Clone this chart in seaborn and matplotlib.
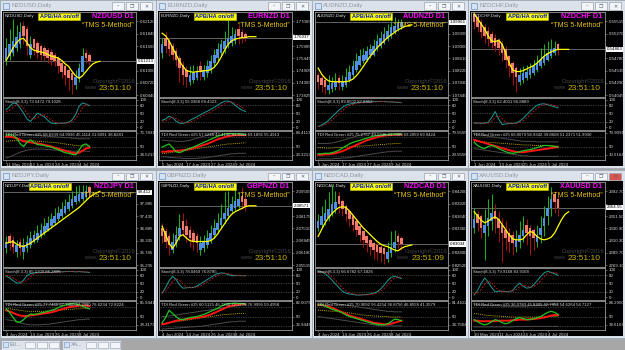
import matplotlib
matplotlib.use("Agg")
import matplotlib.pyplot as plt
from matplotlib.patches import Rectangle
import seaborn as sns

plt.rcParams['font.family'] = ['Liberation Sans', 'DejaVu Sans']

# ------------------------------------------------------------------ data
symbols = ['NZDUSD', 'EURNZD', 'AUDNZD', 'NZDCHF', 'NZDJPY', 'GBPNZD', 'NZDCAD', 'XAUUSD']
clock = ['23:51:10', '23:51:10', '23:51:10', '23:51:10', '23:51:10', '23:51:10', '23:51:09', '23:51:10']

# price pane values in pane units (0 = bottom, 100 = top)
nzdusd_open = [44, 48, 52, 58, 62, 84, 80, 50, 68, 64, 60, 58, 55, 53, 50, 46, 40, 36, 32, 28, 14, 22, 30, 52, 50]
nzdusd_close = [58, 62, 66, 70, 76, 72, 60, 62, 58, 52, 50, 48, 46, 44, 42, 36, 30, 26, 22, 20, 24, 34, 48, 46, 42]
nzdusd_high = [70, 80, 92, 85, 88, 90, 84, 72, 70, 66, 62, 60, 58, 56, 52, 48, 44, 40, 34, 30, 32, 40, 58, 56, 52]
nzdusd_low = [38, 44, 48, 54, 58, 62, 50, 46, 50, 46, 44, 42, 40, 38, 36, 28, 22, 14, 8, 4, 10, 18, 28, 40, 38]
nzdusd_ma = [43, 50, 58, 64, 68, 69, 64, 58, 55, 54, 53, 52, 50, 48, 47, 46, 43, 39, 36, 30, 25, 22, 25, 30, 35, 39, 41, 42]

eurnzd_open = [52, 70, 66, 60, 54, 46, 38, 32, 18, 20, 22, 36, 24, 28, 32, 40, 46, 52, 56, 62, 64, 66, 80, 76, 74]
eurnzd_close = [62, 60, 56, 50, 44, 34, 26, 24, 26, 28, 30, 30, 32, 36, 42, 50, 56, 62, 66, 70, 72, 74, 72, 71, 70]
eurnzd_high = [70, 76, 70, 64, 58, 50, 42, 36, 36, 38, 36, 42, 38, 44, 50, 56, 64, 68, 78, 92, 82, 80, 86, 80, 76]
eurnzd_low = [46, 52, 48, 44, 36, 18, 14, 12, 14, 16, 20, 20, 20, 24, 28, 36, 42, 48, 52, 58, 60, 62, 62, 64, 66]
eurnzd_ma = [75, 72, 66, 58, 50, 42, 36, 31, 30, 29, 30, 30, 31, 31, 32, 35, 40, 47, 55, 62, 66, 68, 69, 70, 70, 71, 71, 71]

audnzd_open = [26, 22, 20, 8, 10, 12, 22, 12, 14, 20, 26, 32, 38, 42, 44, 50, 50, 56, 60, 64, 68, 72, 76, 80, 82]
audnzd_close = [18, 14, 12, 14, 16, 18, 16, 18, 24, 30, 36, 42, 48, 50, 54, 56, 60, 66, 70, 74, 78, 82, 84, 87, 88]
audnzd_high = [30, 26, 24, 26, 24, 28, 26, 26, 34, 38, 44, 52, 56, 58, 60, 62, 68, 74, 78, 82, 86, 90, 94, 92, 92]
audnzd_low = [10, 6, 4, 4, 6, 8, 8, 8, 12, 18, 24, 30, 36, 40, 42, 46, 48, 54, 58, 62, 66, 70, 74, 78, 80]
audnzd_ma = [34, 27, 22, 19, 18, 18, 18, 18, 18, 19, 21, 25, 30, 36, 42, 48, 53, 58, 62, 66, 70, 73, 76, 79, 81, 83, 84, 85]

nzdchf_open = [98, 94, 88, 82, 78, 74, 70, 66, 62, 56, 48, 40, 34, 18, 20, 22, 26, 28, 32, 36, 40, 44, 48, 52, 62]
nzdchf_close = [88, 82, 76, 72, 68, 64, 60, 58, 52, 44, 36, 28, 24, 26, 28, 30, 33, 36, 40, 44, 48, 52, 56, 58, 56]
nzdchf_high = [100, 98, 92, 86, 82, 78, 74, 70, 66, 60, 50, 42, 36, 34, 36, 38, 40, 44, 50, 58, 62, 66, 68, 66, 64]
nzdchf_low = [80, 76, 70, 64, 60, 58, 54, 50, 42, 34, 24, 14, 6, 14, 16, 20, 22, 26, 30, 34, 38, 42, 46, 50, 50]
nzdchf_ma = [98, 92, 86, 80, 72, 66, 65, 67, 62, 52, 40, 32, 30, 30, 31, 33, 35, 37, 40, 44, 48, 51, 53, 55, 56, 56, 56, 56]

nzdjpy_open = [22, 36, 32, 18, 30, 18, 22, 26, 30, 32, 36, 40, 44, 48, 52, 56, 60, 64, 68, 72, 76, 78, 80, 82, 94]
nzdjpy_close = [30, 28, 24, 26, 22, 26, 30, 34, 38, 40, 44, 48, 52, 56, 60, 64, 68, 72, 76, 80, 84, 86, 88, 90, 88]
nzdjpy_high = [36, 40, 36, 32, 34, 34, 38, 42, 44, 50, 52, 58, 60, 64, 70, 72, 76, 80, 86, 90, 95, 96, 97, 96, 96]
nzdjpy_low = [16, 20, 16, 12, 14, 10, 18, 22, 28, 30, 34, 38, 42, 46, 50, 54, 58, 62, 66, 70, 74, 76, 78, 80, 82]
nzdjpy_ma = [28, 29, 30, 27, 25, 24, 26, 28, 31, 34, 37, 40, 43, 46, 49, 52, 55, 58, 61, 64, 67, 70, 74, 78, 82, 85, 87, 89]

gbpnzd_open = [46, 42, 36, 20, 28, 36, 54, 48, 44, 40, 36, 20, 22, 26, 32, 38, 44, 50, 56, 60, 66, 70, 72, 84, 80]
gbpnzd_close = [36, 30, 26, 30, 38, 46, 44, 38, 34, 30, 28, 28, 30, 34, 40, 46, 52, 58, 64, 70, 74, 78, 80, 76, 72]
gbpnzd_high = [52, 46, 40, 40, 48, 62, 64, 56, 48, 44, 40, 36, 38, 44, 50, 56, 64, 74, 88, 90, 84, 92, 88, 94, 84]
gbpnzd_low = [28, 22, 14, 16, 24, 32, 36, 30, 24, 20, 18, 14, 18, 22, 28, 34, 40, 46, 52, 56, 62, 66, 70, 68, 66]
gbpnzd_ma = [48, 38, 28, 22, 28, 36, 38, 34, 31, 30, 30, 30, 30, 30, 31, 34, 39, 45, 51, 57, 62, 65, 67, 69, 71, 72, 72, 72]

nzdcad_open = [46, 50, 54, 58, 64, 68, 84, 78, 72, 66, 60, 54, 48, 42, 36, 32, 28, 26, 24, 22, 10, 16, 22, 36, 34]
nzdcad_close = [54, 60, 64, 68, 74, 76, 74, 68, 62, 56, 50, 44, 38, 32, 28, 24, 20, 18, 16, 15, 18, 24, 30, 30, 27]
nzdcad_high = [62, 72, 80, 88, 96, 90, 88, 80, 74, 68, 62, 56, 50, 44, 38, 34, 30, 28, 26, 24, 30, 42, 44, 40, 36]
nzdcad_low = [42, 46, 50, 54, 60, 64, 64, 60, 54, 48, 42, 36, 30, 24, 18, 14, 10, 8, 6, 4, 6, 12, 18, 22, 20]
nzdcad_ma = [36, 44, 52, 58, 63, 67, 70, 71, 70, 66, 61, 56, 51, 46, 42, 38, 34, 30, 27, 25, 24, 22, 20, 19, 22, 24, 25, 26]

xauusd_open = [46, 62, 60, 40, 48, 54, 66, 56, 50, 44, 40, 38, 24, 30, 36, 50, 46, 44, 30, 38, 48, 60, 70, 86, 80]
xauusd_close = [56, 52, 46, 50, 58, 64, 56, 46, 40, 34, 30, 28, 32, 38, 44, 40, 36, 34, 38, 46, 58, 70, 80, 76, 70]
xauusd_high = [70, 66, 62, 68, 80, 86, 74, 66, 58, 54, 46, 42, 44, 54, 60, 56, 50, 46, 50, 60, 72, 84, 94, 90, 84]
xauusd_low = [40, 42, 34, 8, 36, 44, 40, 30, 6, 20, 18, 14, 18, 22, 30, 26, 14, 20, 24, 28, 36, 50, 60, 64, 60]
xauusd_ma = [65, 60, 55, 52, 54, 57, 59, 56, 50, 44, 38, 33, 32, 32, 33, 38, 42, 40, 36, 33, 32, 33, 35, 40, 48, 56, 62, 65]

# price axis labels (bottom -> top) and last price
nzdusd_ticks = ['0.60440', '0.60720', '0.61000', '0.61280', '0.61560', '0.61840', '0.62120']
eurnzd_ticks = ['1.73825', '1.74365', '1.74905', '1.75445', '1.75985', '1.76525', '1.77065']
audnzd_ticks = ['1.07440', '1.07830', '1.08220', '1.08610', '1.09000', '1.09390', '1.09780']
nzdchf_ticks = ['0.54045', '0.54290', '0.54535', '0.54780', '0.55025', '0.55270', '0.55515']
nzdjpy_ticks = ['95.235', '95.785', '96.335', '96.885', '97.435', '97.985', '98.535']
gbpnzd_ticks = ['2.05515', '2.06180', '2.06845', '2.07510', '2.08175', '2.08840', '2.09505']
nzdcad_ticks = ['0.82520', '0.82800', '0.83080', '0.83360', '0.83640', '0.83920', '0.84200']
xauusd_ticks = ['2269.10', '2289.70', '2310.30', '2330.90', '2351.50', '2372.10', '2392.70']
last_price = ['0.61213', '1.76037', '1.09961', '0.54863', '98.412', '2.08571', '0.83034', '2364.55']

# stochastic (main, signal)
nzdusd_stoch = [63, 75, 88, 85, 70, 51, 30, 21, 35, 51, 45, 38, 25, 15, 14, 14, 15, 15, 18, 27, 45, 76, 88, 84, 78]
nzdusd_signal = [55, 62, 72, 82, 81, 70, 50, 34, 28, 35, 43, 45, 36, 26, 18, 14, 14, 15, 16, 20, 30, 50, 70, 83, 84]
eurnzd_stoch = [25, 30, 40, 35, 22, 15, 14, 18, 25, 32, 38, 45, 52, 58, 65, 72, 80, 88, 94, 95, 90, 80, 70, 62, 57]
eurnzd_signal = [22, 24, 30, 35, 32, 24, 17, 15, 18, 24, 30, 37, 43, 50, 56, 63, 70, 78, 85, 90, 92, 88, 80, 72, 64]
audnzd_stoch = [3, 8, 15, 25, 38, 50, 62, 72, 80, 84, 86, 88, 90, 91, 92, 92, 93, 93, 94, 93, 92, 92, 91, 90, 89]
audnzd_signal = [2, 4, 9, 16, 26, 38, 50, 61, 71, 79, 83, 86, 88, 89, 90, 91, 92, 92, 93, 93, 93, 92, 92, 91, 90]
nzdchf_stoch = [15, 15, 14, 15, 18, 35, 57, 30, 10, 12, 14, 14, 15, 22, 32, 45, 58, 70, 80, 84, 85, 82, 78, 74, 70]
nzdchf_signal = [16, 15, 15, 14, 15, 22, 37, 41, 32, 18, 12, 13, 14, 17, 23, 33, 45, 58, 69, 78, 83, 84, 82, 78, 74]
nzdjpy_stoch = [76, 70, 60, 52, 51, 62, 78, 86, 88, 90, 89, 90, 91, 90, 92, 93, 92, 93, 94, 93, 92, 93, 92, 91, 90]
nzdjpy_signal = [80, 76, 70, 62, 55, 55, 62, 74, 84, 88, 89, 90, 90, 90, 91, 92, 92, 92, 93, 93, 93, 93, 92, 92, 91]
gbpnzd_stoch = [15, 35, 60, 76, 65, 45, 33, 34, 36, 35, 40, 48, 56, 64, 72, 80, 86, 88, 87, 82, 78, 78, 79, 78, 78]
gbpnzd_signal = [18, 22, 38, 57, 67, 62, 48, 37, 34, 35, 37, 41, 48, 56, 64, 72, 79, 85, 87, 86, 83, 80, 79, 79, 78]
nzdcad_stoch = [94, 92, 85, 75, 62, 48, 35, 22, 15, 12, 10, 8, 8, 9, 10, 12, 15, 20, 30, 44, 60, 72, 76, 72, 68]
nzdcad_signal = [90, 92, 90, 84, 74, 62, 48, 35, 24, 16, 12, 10, 9, 8, 9, 10, 12, 16, 22, 31, 45, 59, 70, 74, 72]
xauusd_stoch = [8, 25, 50, 70, 55, 35, 20, 22, 22, 21, 20, 24, 40, 51, 40, 33, 35, 45, 60, 75, 88, 94, 90, 85, 80]
xauusd_signal = [12, 15, 28, 48, 58, 53, 37, 26, 21, 21, 21, 22, 28, 38, 44, 41, 36, 38, 47, 60, 74, 86, 91, 90, 86]
stoch_text = ['Stoch(8,3,3) 73.5472 79.1028', 'Stoch(8,3,3) 55.0368 68.4323', 'Stoch(8,3,3) 89.8502 87.8852',
              'Stoch(8,3,3) 62.4031 66.8889', 'Stoch(8,3,3) 85.1709 86.2896', 'Stoch(8,3,3) 78.0469 76.8785',
              'Stoch(8,3,3) 66.6782 67.1826', 'Stoch(8,3,3) 79.9168 83.9168']

# TDI: price line (green), signal (red), market base (yellow), volatility bands (grey)
nzdusd_green = [72, 73, 72, 66, 56, 50, 58, 63, 58, 54, 53, 52, 50, 49, 46, 44, 41, 38, 37, 35, 34, 43, 53, 55, 50]
nzdusd_red = [69, 69, 68, 66, 63, 60, 59, 58, 57, 56, 55, 53, 52, 50, 48, 46, 44, 42, 40, 38, 37, 38, 42, 46, 48]
nzdusd_base = [60, 61, 61, 62, 62, 62, 62, 61, 61, 60, 60, 59, 59, 58, 58, 57, 56, 55, 54, 53, 52, 52, 51, 51, 51]
nzdusd_up = [78, 78, 78, 77, 76, 75, 74, 73, 72, 72, 71, 70, 70, 69, 69, 68, 68, 67, 67, 66, 66, 65, 65, 65, 65]
nzdusd_dn = [28, 30, 33, 36, 39, 41, 43, 44, 45, 45, 45, 45, 44, 44, 43, 43, 42, 42, 42, 41, 41, 41, 41, 41, 41]
eurnzd_green = [49, 52, 55, 48, 40, 38, 41, 44, 47, 49, 52, 55, 58, 61, 64, 67, 70, 72, 74, 75, 75, 74, 75, 74, 73]
eurnzd_red = [40, 40, 41, 41, 42, 42, 43, 44, 45, 47, 49, 51, 53, 55, 58, 61, 64, 66, 68, 70, 71, 72, 72, 72, 72]
eurnzd_base = [36, 37, 38, 39, 40, 41, 42, 43, 44, 45, 46, 47, 48, 49, 50, 51, 52, 53, 54, 55, 55, 56, 56, 57, 57]
eurnzd_up = [62, 62, 61, 61, 60, 60, 60, 61, 62, 64, 66, 68, 70, 72, 74, 76, 78, 79, 80, 80, 80, 80, 80, 80, 80]
eurnzd_dn = [30, 30, 29, 29, 28, 28, 27, 27, 27, 27, 27, 28, 28, 29, 30, 31, 32, 33, 34, 35, 36, 36, 37, 37, 37]
audnzd_green = [36, 36, 37, 37, 38, 40, 43, 47, 51, 55, 58, 60, 62, 64, 66, 68, 70, 71, 72, 73, 73, 74, 74, 74, 74]
audnzd_red = [34, 34, 35, 35, 36, 37, 39, 41, 44, 47, 50, 53, 56, 59, 62, 64, 66, 68, 70, 71, 72, 72, 73, 73, 73]
audnzd_base = [48, 48, 47, 47, 47, 48, 48, 48, 49, 49, 50, 50, 51, 51, 52, 52, 53, 53, 54, 54, 55, 55, 56, 56, 56]
audnzd_up = [56, 56, 56, 56, 57, 58, 60, 62, 64, 66, 68, 70, 72, 74, 75, 76, 77, 78, 78, 79, 79, 80, 80, 80, 80]
audnzd_dn = [26, 26, 26, 26, 26, 27, 27, 28, 28, 29, 30, 31, 32, 33, 34, 35, 36, 37, 38, 39, 40, 40, 41, 41, 41]
nzdchf_green = [58, 52, 48, 46, 50, 52, 50, 46, 43, 40, 38, 37, 38, 40, 42, 43, 44, 46, 48, 50, 52, 52, 51, 50, 49]
nzdchf_red = [63, 61, 59, 57, 55, 53, 51, 49, 47, 45, 43, 41, 40, 39, 39, 40, 41, 42, 43, 44, 45, 46, 47, 48, 49]
nzdchf_base = [60, 60, 59, 59, 58, 58, 57, 57, 56, 56, 55, 55, 54, 54, 53, 53, 53, 52, 52, 52, 52, 52, 52, 51, 51]
nzdchf_up = [74, 73, 72, 71, 70, 69, 68, 67, 66, 65, 64, 63, 62, 61, 60, 60, 60, 60, 59, 59, 59, 59, 59, 59, 59]
nzdchf_dn = [46, 45, 44, 43, 42, 41, 40, 39, 38, 37, 36, 35, 34, 33, 32, 32, 31, 31, 31, 31, 31, 31, 31, 31, 31]
nzdjpy_green = [65, 58, 48, 40, 39, 44, 50, 55, 54, 55, 57, 58, 60, 62, 64, 67, 70, 72, 74, 75, 74, 73, 70, 67, 65]
nzdjpy_red = [62, 60, 57, 54, 52, 51, 51, 52, 53, 54, 55, 56, 57, 58, 60, 62, 64, 66, 68, 69, 70, 71, 71, 71, 70]
nzdjpy_base = [66, 65, 64, 63, 62, 61, 60, 60, 60, 60, 60, 60, 61, 61, 62, 62, 63, 63, 64, 64, 65, 65, 66, 66, 66]
nzdjpy_up = [74, 74, 73, 73, 72, 72, 72, 72, 72, 72, 72, 72, 73, 73, 74, 74, 75, 75, 76, 76, 77, 77, 77, 77, 77]
nzdjpy_dn = [44, 43, 42, 40, 38, 36, 35, 34, 34, 34, 34, 35, 35, 36, 37, 38, 39, 40, 41, 42, 43, 44, 44, 45, 45]
gbpnzd_green = [38, 48, 62, 56, 50, 45, 44, 46, 48, 49, 50, 52, 54, 57, 60, 63, 66, 70, 73, 75, 75, 76, 75, 75, 74]
gbpnzd_red = [35, 36, 38, 40, 42, 43, 44, 45, 46, 47, 48, 49, 50, 52, 54, 57, 60, 63, 66, 69, 71, 72, 73, 74, 74]
gbpnzd_base = [36, 37, 38, 39, 40, 41, 42, 43, 44, 45, 46, 47, 48, 49, 50, 51, 52, 53, 54, 54, 55, 55, 56, 56, 56]
gbpnzd_up = [50, 50, 51, 52, 53, 54, 55, 56, 57, 58, 59, 60, 61, 62, 63, 64, 65, 66, 67, 68, 69, 70, 71, 72, 72]
gbpnzd_dn = [26, 26, 27, 27, 28, 28, 29, 29, 30, 30, 31, 31, 32, 33, 34, 35, 36, 37, 38, 39, 40, 40, 41, 41, 41]
nzdcad_green = [72, 73, 70, 67, 64, 62, 60, 57, 53, 50, 48, 46, 44, 42, 40, 38, 36, 35, 34, 34, 36, 40, 45, 44, 42]
nzdcad_red = [72, 72, 71, 69, 67, 64, 61, 58, 55, 52, 50, 48, 46, 44, 42, 40, 38, 37, 36, 35, 35, 36, 38, 40, 42]
nzdcad_base = [62, 62, 61, 61, 60, 60, 59, 59, 58, 57, 56, 55, 54, 53, 52, 52, 51, 51, 50, 50, 50, 49, 49, 49, 49]
nzdcad_up = [78, 78, 78, 77, 76, 75, 74, 73, 72, 71, 70, 69, 68, 67, 66, 65, 64, 63, 62, 61, 60, 60, 59, 59, 59]
nzdcad_dn = [50, 49, 48, 47, 46, 45, 44, 43, 42, 41, 40, 39, 38, 37, 36, 35, 34, 33, 32, 32, 32, 32, 32, 32, 32]
xauusd_green = [44, 40, 36, 34, 36, 40, 44, 42, 38, 36, 38, 42, 46, 48, 46, 44, 44, 46, 48, 50, 54, 58, 60, 58, 54]
xauusd_red = [42, 42, 41, 41, 41, 41, 41, 42, 42, 42, 42, 43, 43, 44, 44, 44, 45, 45, 46, 47, 48, 50, 52, 53, 53]
xauusd_base = [56, 55, 54, 53, 52, 52, 51, 51, 50, 50, 49, 49, 49, 49, 49, 49, 49, 49, 49, 49, 50, 50, 50, 50, 50]
xauusd_up = [73, 73, 72, 72, 72, 71, 71, 71, 70, 70, 70, 70, 70, 70, 70, 70, 71, 71, 71, 72, 72, 73, 73, 74, 74]
xauusd_dn = [30, 30, 30, 30, 30, 30, 30, 30, 30, 30, 30, 30, 31, 31, 31, 31, 31, 31, 31, 31, 31, 31, 31, 31, 31]
tdi_text = ['TDI Red Green #25 68.6939 64.9936 45.1114 31.6091 38.8281',
            'TDI Red Green #25 57.5248 42.4190 83.4113 69.1891 55.4913',
            'TDI Red Green #25 75.2757 49.5348 81.0085 69.2059 69.9424',
            'TDI Red Green #25 66.0079 58.9342 39.8608 51.2371 51.9930',
            'TDI Red Green #25 77.7460 67.7460 57.2080 76.6234 72.8224',
            'TDI Red Green #25 60.5125 46.7200 72.2775 76.9995 59.4958',
            'TDI Red Green #25 70.9092 56.4254 36.8756 46.8558 41.3579',
            'TDI Red Green #25 36.0783 45.8405 42.7954 54.6264 54.7127']
tdi_top = ['76.7831', '83.4113', '79.5555', '79.9091', '85.9441', '82.0079', '81.4622', '84.2950']
tdi_bottom = ['34.5213', '23.3213', '29.5556', '30.5164', '28.3173', '32.9448', '34.7504', '38.6168']

dates = [['31 May 2024', '12 Jun 2024', '24 Jun 2024', '4 Jul 2024'],
         ['5 Jun 2024', '17 Jun 2024', '27 Jun 2024', '9 Jul 2024'],
         ['5 Jun 2024', '17 Jun 2024', '27 Jun 2024', '9 Jul 2024'],
         ['1 Jun 2024', '13 Jun 2024', '25 Jun 2024', '5 Jul 2024'],
         ['4 Jun 2024', '14 Jun 2024', '26 Jun 2024', '8 Jul 2024'],
         ['4 Jun 2024', '14 Jun 2024', '26 Jun 2024', '8 Jul 2024'],
         ['4 Jun 2024', '14 Jun 2024', '26 Jun 2024', '8 Jul 2024'],
         ['30 May 2024', '11 Jun 2024', '24 Jun 2024', '4 Jul 2024']]

charts = [
    (nzdusd_open, nzdusd_close, nzdusd_high, nzdusd_low, nzdusd_ma, nzdusd_ticks, nzdusd_stoch, nzdusd_signal,
     nzdusd_green, nzdusd_red, nzdusd_base, nzdusd_up, nzdusd_dn),
    (eurnzd_open, eurnzd_close, eurnzd_high, eurnzd_low, eurnzd_ma, eurnzd_ticks, eurnzd_stoch, eurnzd_signal,
     eurnzd_green, eurnzd_red, eurnzd_base, eurnzd_up, eurnzd_dn),
    (audnzd_open, audnzd_close, audnzd_high, audnzd_low, audnzd_ma, audnzd_ticks, audnzd_stoch, audnzd_signal,
     audnzd_green, audnzd_red, audnzd_base, audnzd_up, audnzd_dn),
    (nzdchf_open, nzdchf_close, nzdchf_high, nzdchf_low, nzdchf_ma, nzdchf_ticks, nzdchf_stoch, nzdchf_signal,
     nzdchf_green, nzdchf_red, nzdchf_base, nzdchf_up, nzdchf_dn),
    (nzdjpy_open, nzdjpy_close, nzdjpy_high, nzdjpy_low, nzdjpy_ma, nzdjpy_ticks, nzdjpy_stoch, nzdjpy_signal,
     nzdjpy_green, nzdjpy_red, nzdjpy_base, nzdjpy_up, nzdjpy_dn),
    (gbpnzd_open, gbpnzd_close, gbpnzd_high, gbpnzd_low, gbpnzd_ma, gbpnzd_ticks, gbpnzd_stoch, gbpnzd_signal,
     gbpnzd_green, gbpnzd_red, gbpnzd_base, gbpnzd_up, gbpnzd_dn),
    (nzdcad_open, nzdcad_close, nzdcad_high, nzdcad_low, nzdcad_ma, nzdcad_ticks, nzdcad_stoch, nzdcad_signal,
     nzdcad_green, nzdcad_red, nzdcad_base, nzdcad_up, nzdcad_dn),
    (xauusd_open, xauusd_close, xauusd_high, xauusd_low, xauusd_ma, xauusd_ticks, xauusd_stoch, xauusd_signal,
     xauusd_green, xauusd_red, xauusd_base, xauusd_up, xauusd_dn),
]

# ------------------------------------------------------------------ layout helpers
W, H = 625, 350
fig = plt.figure(figsize=(6.25, 3.5), dpi=100)
fig.patch.set_facecolor('#a7a7a7')


def rect(x, y, w, h, fc, ec='none', lw=0.6, z=-5):
    fig.patches.append(Rectangle((x / W, 1 - (y + h) / H), w / W, h / H, transform=fig.transFigure,
                                 facecolor=fc, edgecolor=ec, linewidth=lw, zorder=z))


def ftext(x, y, s, **kw):
    kw.setdefault('zorder', 10)
    fig.text(x / W, 1 - y / H, s, **kw)


def add_ax(x, y, w, h):
    ax = fig.add_axes([x / W, 1 - (y + h) / H, w / W, h / H])
    ax.set_zorder(1)
    ax.set_facecolor('black')
    for sp in ax.spines.values():
        sp.set_color('#9a9a9a')
        sp.set_linewidth(0.6)
    ax.tick_params(colors='#9a9a9a', labelcolor='#d6d6d6', labelsize=3.2, length=1.5, width=0.4, pad=1)
    ax.yaxis.tick_right()
    return ax


COL_X = [0, 156, 312, 468, 625]
ROW_Y = [0, 170]
WIN_H = 168
PRICE_POS = [2, 16.5, 31, 45.5, 60, 74.5, 89]
XLIM = (-0.9, 37.4)

for k, sym in enumerate(symbols):
    (o, c, hi, lo, ma, pticks, st, sg, gr, rd, base, up, dn) = charts[k]
    col, row = k % 4, k // 4
    x0, y0 = COL_X[col], ROW_Y[row]
    w = COL_X[col + 1] - x0
    active = sym == 'XAUUSD'

    # window frame and title bar
    rect(x0, y0, w, WIN_H, '#dbe2ea', ec='#a4aeba', lw=0.7)
    rect(x0 + 3, y0 + 2.5, 6, 6, '#d3e3f6', ec='#6d90c4', lw=0.5)
    ftext(x0 + 11, y0 + 6, sym + ',Daily', fontsize=4.3, color='#8d97a3', va='center')
    for i, bx in enumerate([w - 44, w - 30, w - 16]):
        fc = '#d9534f' if (active and i == 2) else '#f3f5f8'
        rect(x0 + bx, y0 + 2.5, 12, 7, fc, ec='#9aa5b1', lw=0.5)
    for i, glyph in enumerate(['–', '❐', '✕']):
        ftext(x0 + w - 38 + 14 * i, y0 + 6.3, glyph, fontsize=3.5, color='#59636e',
              ha='center', va='center', family=['DejaVu Sans'])
    rect(x0 + 2, y0 + 11, w - 4, WIN_H - 13, 'black')

    pw = w - 23
    xs = list(range(len(o)))

    # ---- price pane
    ax = add_ax(x0 + 3, y0 + 12, pw, 85)
    up_bar = [ci >= oi for oi, ci in zip(o, c)]
    ax.vlines(xs, [min(a, b, d) for a, b, d in zip(lo, o, c)], [max(a, b, d) for a, b, d in zip(hi, o, c)],
              colors=['#1fae1f' if u else '#a31212' for u in up_bar], linewidth=0.75, zorder=2)
    ax.bar(xs, [max(abs(ci - oi), 0.8) for oi, ci in zip(o, c)], bottom=[min(oi, ci) for oi, ci in zip(o, c)],
           width=0.76, color=['#4f8fe0' if u else '#f27a6a' for u in up_bar], linewidth=0, zorder=3)
    sns.lineplot(x=list(range(len(ma))), y=ma, ax=ax, color='#ffff00', linewidth=0.9, zorder=4)
    ax.axhline(c[-1], color='#8a8a8a', linewidth=0.5, zorder=1)
    ax.set_xlim(*XLIM)
    ax.set_ylim(0, 100)
    ax.set_xticks([])
    shown = [lab if abs(pos - c[-1]) > 6 else '' for pos, lab in zip(PRICE_POS, pticks)]
    ax.set_yticks(PRICE_POS, shown)
    ax.set(xlabel='', ylabel='')
    ax.text(1.012, c[-1], last_price[k], transform=ax.get_yaxis_transform(), fontsize=3.2, color='black',
            va='center', ha='left', zorder=6,
            bbox=dict(boxstyle='square,pad=0.15', facecolor='white', edgecolor='none'))

    apb_x = 50 if sym == 'NZDJPY' else 59
    ftext(x0 + 5, y0 + 15.5, sym + ',Daily', fontsize=3.2, color='#e0e0e0', va='center')
    ftext(x0 + apb_x, y0 + 16.8, 'APB/HA on/off', fontsize=4.1, color='#0018c8', fontweight='bold',
          ha='center', va='center', bbox=dict(boxstyle='square,pad=0.2', facecolor='#ffff00', edgecolor='#c8c800', linewidth=0.4))
    ftext(x0 + pw + 0.5, y0 + 16.5, sym + ' D1', fontsize=5.2, color='#ff00ff', fontweight='bold', ha='right', va='center')
    ftext(x0 + pw + 0.5, y0 + 25.5, '“TMS 5-Method”', fontsize=5.0, color='#e6c21a', ha='right', va='center')
    ftext(x0 + pw - 40, y0 + 81, 'Copyright©2016', fontsize=4.2, color='#454545', va='center')
    ftext(x0 + pw - 49, y0 + 87.5, 'www', fontsize=4.0, color='#454545', va='center')
    ftext(x0 + pw - 1, y0 + 88.8, clock[k], fontsize=6.0, color='#c9b300', ha='right', va='center')

    # ---- stochastic pane
    ax = add_ax(x0 + 3, y0 + 98, pw, 32)
    for lvl in (80, 50, 20):
        ax.axhline(lvl, color='#6e6e6e', linewidth=0.5, linestyle=(0, (1, 1.5)))
    sns.lineplot(x=xs, y=st, ax=ax, color='#1a9a9a', linewidth=0.7)
    sns.lineplot(x=xs, y=sg, ax=ax, color='#b01818', linewidth=0.7, linestyle=(0, (2, 1.5)))
    ax.set_xlim(*XLIM)
    ax.set_ylim(-10, 106)
    ax.set_xticks([])
    ax.set_yticks([100, 80, 50, 20, 0], ['100', '80', '50', '20', '0'])
    ax.set(xlabel='', ylabel='')
    ftext(x0 + 5, y0 + 101.5, stoch_text[k], fontsize=3.1, color='#d6d6d6', va='center')

    # ---- TDI pane
    ax = add_ax(x0 + 3, y0 + 131, pw, 29)
    for lvl in (68, 50, 32):
        ax.axhline(lvl, color='#6e6e6e', linewidth=0.5, linestyle=(0, (1, 1.5)))
    sns.lineplot(x=xs, y=up, ax=ax, color='#4b4b4b', linewidth=0.7)
    sns.lineplot(x=xs, y=dn, ax=ax, color='#4b4b4b', linewidth=0.7)
    sns.lineplot(x=xs, y=base, ax=ax, color='#b8a000', linewidth=0.7, linestyle=(0, (1, 1)))
    sns.lineplot(x=xs, y=rd, ax=ax, color='#ff1414', linewidth=1.4)
    sns.lineplot(x=xs, y=gr, ax=ax, color='#22c422', linewidth=0.9)
    ax.set_xlim(*XLIM)
    ax.set_ylim(24, 80)
    ax.set_yticks([76.8, 50, 34.5], [tdi_top[k], '50', tdi_bottom[k]])
    ax.set_xticks([0, 7, 14, 21], dates[k])
    for lab in ax.get_xticklabels():
        lab.set_ha('left')
    ax.set(xlabel='', ylabel='')
    ftext(x0 + 5, y0 + 134.5, tdi_text[k], fontsize=3.1, color='#d6d6d6', va='center')

# ---- minimised windows bar
rect(0, 338.5, 625, 11.5, '#a7a7a7')
for tx, lab in ((1, 'EU...'), (62, 'XA...')):
    rect(tx, 340, 59, 9.5, '#dde4ec', ec='#9fa9b5', lw=0.6)
    rect(tx + 2, 342, 5, 5, '#d3e3f6', ec='#6d90c4', lw=0.4)
    ftext(tx + 9, 345, lab, fontsize=3.8, color='#7d8793', va='center')
    for bx in (24, 36, 48):
        rect(tx + bx, 341.5, 10, 6.5, '#f3f5f8', ec='#9aa5b1', lw=0.4)

fig.savefig('out.png', dpi=100, facecolor=fig.get_facecolor())
